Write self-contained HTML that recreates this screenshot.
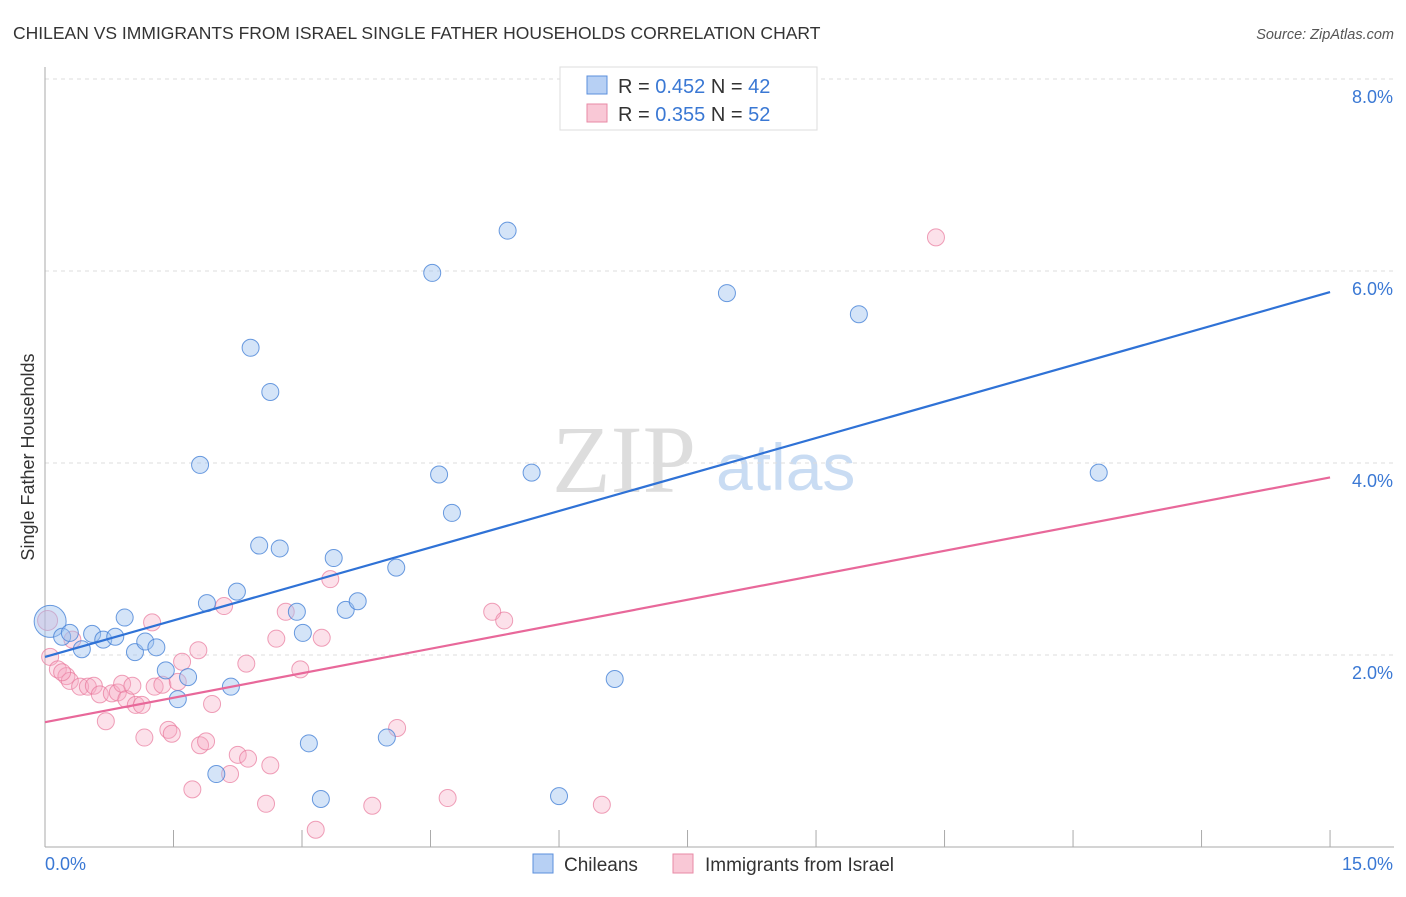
<!DOCTYPE html>
<html><head><meta charset="utf-8"><style>
body{margin:0;background:#fff;font-family:"Liberation Sans",sans-serif;}
</style></head><body>
<svg id="chart" width="1406" height="892" viewBox="0 0 1406 892" xmlns="http://www.w3.org/2000/svg">
<text x="13" y="39" font-size="17.5" fill="#333">CHILEAN VS IMMIGRANTS FROM ISRAEL SINGLE FATHER HOUSEHOLDS CORRELATION CHART</text>
<text x="1394" y="39" font-size="14.5" fill="#555" font-style="italic" text-anchor="end">Source: ZipAtlas.com</text>
<text x="552" y="492" font-size="96" fill="#ddd" font-family="Liberation Serif,serif">ZIP</text>
<text x="716" y="490" font-size="66" fill="#c9dcf3">atlas</text>
<text transform="translate(34,457) rotate(-90)" font-size="18" fill="#333" text-anchor="middle">Single Father Households</text>
<g id="grid"></g><g id="axes"></g><g id="marks"></g>
<g>
<rect x="560" y="67" width="257" height="63" fill="#fff" stroke="#ddd"/>
<rect x="587" y="76" width="20" height="18" fill="#b7d0f4" stroke="#5b8fdc"/>
<text x="618" y="93" font-size="20" fill="#333">R = <tspan fill="#3a78d4">0.452</tspan>   N = <tspan fill="#3a78d4">42</tspan></text>
<rect x="587" y="104" width="20" height="18" fill="#f9c8d6" stroke="#e88aa6"/>
<text x="618" y="121" font-size="20" fill="#333">R = <tspan fill="#3a78d4">0.355</tspan>   N = <tspan fill="#3a78d4">52</tspan></text>
</g>
<g>
<rect x="533" y="854" width="20" height="19" fill="#b7d0f4" stroke="#5b8fdc"/>
<text x="564" y="871" font-size="19" fill="#333">Chileans</text>
<rect x="673" y="854" width="20" height="19" fill="#f9c8d6" stroke="#e88aa6"/>
<text x="705" y="871" font-size="19" fill="#333">Immigrants from Israel</text>
</g>
</svg>
<script>
const yTicks=[2,4,6,8];
const yTickLabels=["2.0%","4.0%","6.0%","8.0%"];
const xTickLabels=["0.0%","15.0%"];
const chileX=[0.06,0.20,0.29,0.43,0.55,0.68,0.82,0.93,1.05,1.17,1.30,1.41,1.55,1.67,1.81,1.89,2.00,2.17,2.24,2.40,2.50,2.63,2.74,2.94,3.01,3.08,3.22,3.37,3.51,3.65,3.99,4.10,4.52,4.60,4.75,5.40,5.68,6.00,6.65,7.96,9.50,12.30];
const chileY=[2.35,2.19,2.23,2.06,2.22,2.16,2.19,2.39,2.03,2.14,2.08,1.84,1.54,1.77,3.98,2.54,0.76,1.67,2.66,5.20,3.14,4.74,3.11,2.45,2.23,1.08,0.50,3.01,2.47,2.56,1.14,2.91,5.98,3.88,3.48,6.42,3.90,0.53,1.75,5.77,5.55,3.90];
const israelX=[0.06,0.15,0.25,0.29,0.41,0.50,0.57,0.64,0.71,0.78,0.85,0.90,0.95,1.02,1.06,1.13,1.16,1.25,1.28,1.37,1.44,1.48,1.55,1.60,1.72,1.79,1.81,1.88,1.95,2.09,2.16,2.25,2.35,2.37,2.58,2.63,2.70,2.81,2.98,3.16,3.23,3.33,3.82,4.11,4.70,5.22,5.36,6.50,10.40,0.32,0.20,0.03];
const israelY=[1.98,1.85,1.78,1.73,1.67,1.67,1.68,1.59,1.31,1.60,1.61,1.70,1.54,1.68,1.48,1.48,1.14,2.34,1.67,1.69,1.22,1.18,1.72,1.93,0.60,2.05,1.06,1.10,1.49,2.51,0.76,0.96,1.91,0.92,0.45,0.85,2.17,2.45,1.85,0.18,2.18,2.79,0.43,1.24,0.51,2.45,2.36,0.44,6.35,2.16,1.82,2.36];
const chileTrend=[1.98,5.78];
const israelTrend=[1.30,3.85];
const xs=v=>45+v*85.67, ys=v=>847-v*96;
const NS="http://www.w3.org/2000/svg";
function mk(tag,attrs,parent){const e=document.createElementNS(NS,tag);for(const k in attrs)e.setAttribute(k,attrs[k]);document.getElementById(parent).appendChild(e);return e;}
yTicks.forEach((t,i)=>{
 const l=mk('line',{x1:45,x2:1394,y1:ys(t),y2:ys(t),stroke:'#ddd','stroke-dasharray':'4,4'},'grid');
 
 
 const tx=mk('text',{x:1393,y:ys(t)+24,'font-size':18,fill:'#3a78d4','text-anchor':'end'},'axes');
 tx.textContent=yTickLabels[i];
 
 
});
const ax=mk('line',{x1:45,x2:45,y1:67,y2:847,stroke:'#aaa'},'axes');


const bx=mk('line',{x1:45,x2:1394,y1:847,y2:847,stroke:'#aaa'},'axes');


for(let i=0;i<=10;i++){const t=mk('line',{x1:xs(i*1.5),x2:xs(i*1.5),y1:830,y2:847,stroke:'#aaa'},'axes');
 
 }
const xl0=mk('text',{x:45,y:870,'font-size':18,fill:'#3a78d4'},'axes');xl0.textContent=xTickLabels[0];


const xl1=mk('text',{x:1393,y:870,'font-size':18,fill:'#3a78d4','text-anchor':'end'},'axes');xl1.textContent=xTickLabels[1];


israelX.forEach((x,i)=>{const c=mk('circle',{cx:xs(x),cy:ys(israelY[i]),r:i==51?10:8.5,fill:'rgba(247,170,195,0.35)',stroke:'rgba(232,120,155,0.7)','stroke-width':1},'marks');
 
 });
chileX.forEach((x,i)=>{const c=mk('circle',{cx:xs(x),cy:ys(chileY[i]),r:i==0?16:8.5,fill:'rgba(160,195,240,0.45)',stroke:'rgba(70,130,215,0.8)','stroke-width':1},'marks');
 
 });
const t1=mk('line',{x1:xs(0),x2:xs(15),y1:ys(chileTrend[0]),y2:ys(chileTrend[1]),stroke:'#2f72d6','stroke-width':2.2},'marks');


const t2=mk('line',{x1:xs(0),x2:xs(15),y1:ys(israelTrend[0]),y2:ys(israelTrend[1]),stroke:'#e8689a','stroke-width':2.2},'marks');


</script>
</body></html>
